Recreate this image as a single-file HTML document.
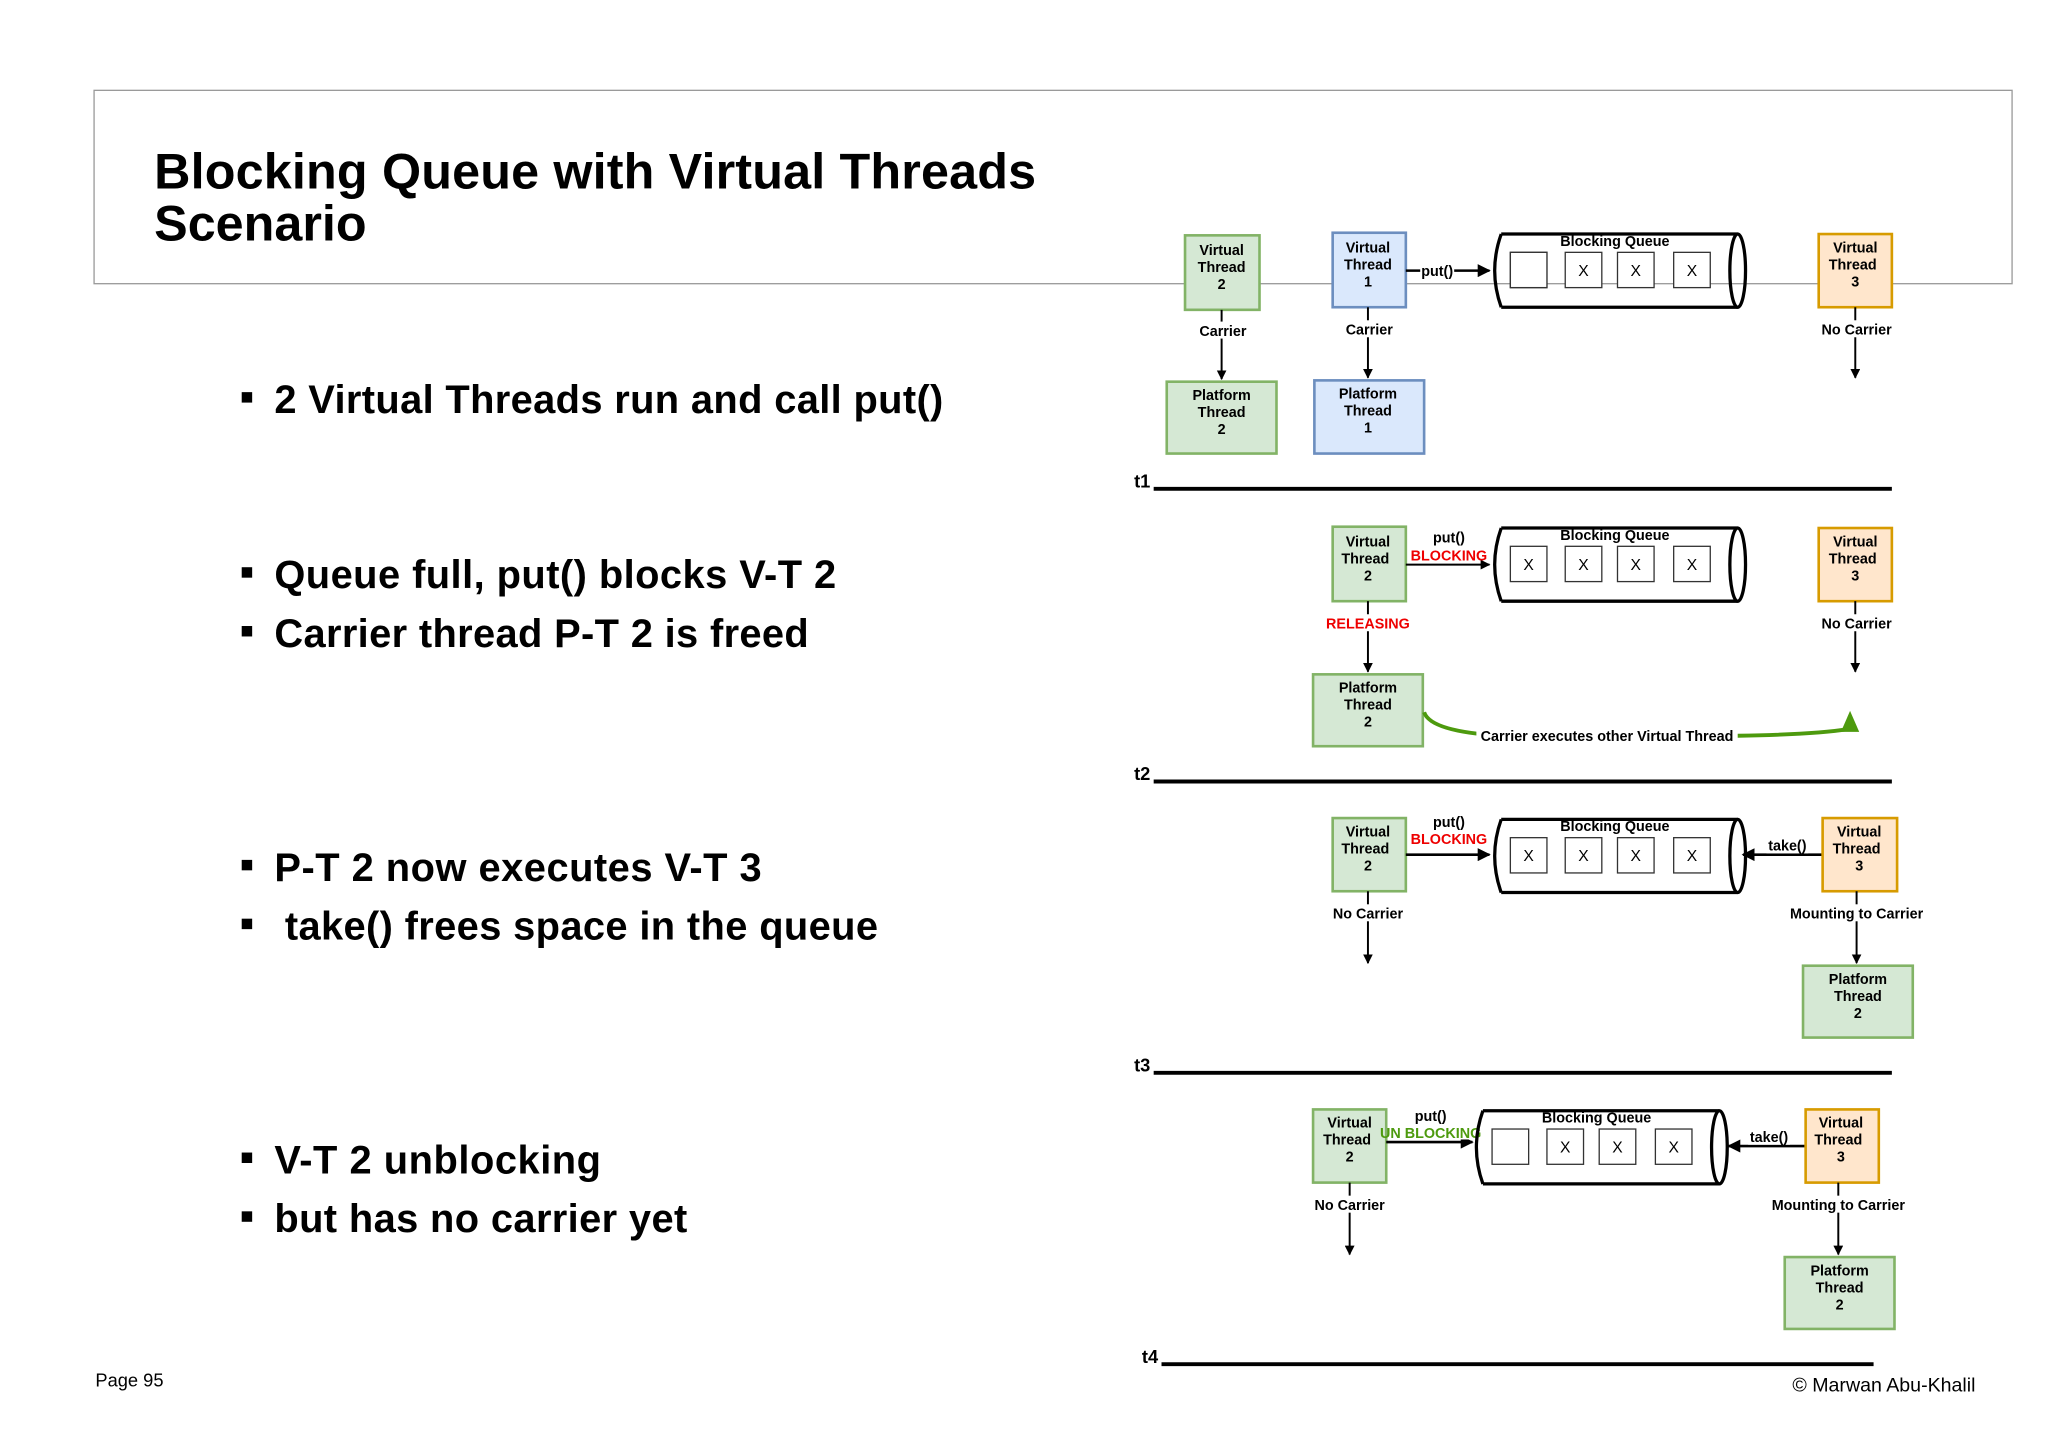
<!DOCTYPE html>
<html><head><meta charset="utf-8"><style>
html,body{margin:0;padding:0;background:#fff;width:2048px;height:1448px;overflow:hidden}
svg{display:block}
text{font-family:"Liberation Sans",sans-serif}
.b{font-weight:bold;font-size:11px;text-anchor:middle}
.l{font-weight:bold;font-size:11px;text-anchor:middle}
</style></head><body>
<svg width="2048" height="1448" viewBox="0 0 1567.5 1108" xmlns="http://www.w3.org/2000/svg">
<defs>
<marker id="ar" viewBox="0 0 10 10" refX="9" refY="5" markerWidth="5" markerHeight="5" orient="auto"><path d="M0,0 L10,5 L0,10 Z" fill="#000"/></marker>
<g id="q">
<path d="M6,0 L187,0 M6,56 L187,56" stroke="#000" stroke-width="2.5" fill="none"/>
<path d="M6,0 Q-4,28 6,56" stroke="#000" stroke-width="2.5" fill="none"/>
<ellipse cx="187" cy="28" rx="6" ry="28" fill="none" stroke="#000" stroke-width="2.5"/>
<text x="93" y="9" class="b">Blocking Queue</text>
</g>
<g id="cells">
<rect x="13" y="14" width="28" height="27" fill="#fff" stroke="#333"/>
<rect x="55" y="14" width="28" height="27" fill="#fff" stroke="#333"/>
<rect x="95" y="14" width="28" height="27" fill="#fff" stroke="#333"/>
<rect x="138" y="14" width="28" height="27" fill="#fff" stroke="#333"/>
<text x="69" y="32" font-size="12" text-anchor="middle">X</text>
<text x="109" y="32" font-size="12" text-anchor="middle">X</text>
<text x="152" y="32" font-size="12" text-anchor="middle">X</text>
</g>
</defs>

<rect x="72" y="69" width="1468" height="148" fill="none" stroke="#999" stroke-width="1"/>
<text x="118" y="144" font-size="38.5" font-weight="bold" textLength="675">Blocking Queue with Virtual Threads</text>
<text x="118" y="184" font-size="38.5" font-weight="bold">Scenario</text>

<g font-size="30.5" font-weight="bold">
<rect x="185" y="300" width="8" height="8"/><text x="210" y="316" textLength="512">2 Virtual Threads run and call put()</text>
<rect x="185" y="434" width="8" height="8"/><text x="210" y="450" textLength="430">Queue full, put() blocks V-T 2</text>
<rect x="185" y="479" width="8" height="8"/><text x="210" y="495" textLength="409">Carrier thread P-T 2 is freed</text>
<rect x="185" y="658" width="8" height="8"/><text x="210" y="674" textLength="373">P-T 2 now executes V-T 3</text>
<rect x="185" y="703" width="8" height="8"/><text x="218" y="719" textLength="454">take() frees space in the queue</text>
<rect x="185" y="882" width="8" height="8"/><text x="210" y="898" textLength="250">V-T 2 unblocking</text>
<rect x="185" y="927" width="8" height="8"/><text x="210" y="943" textLength="316">but has no carrier yet</text>
</g>
<text x="73" y="1061" font-size="14">Page 95</text>
<text x="1512" y="1065" font-size="15" text-anchor="end">© Marwan Abu-Khalil</text>

<!-- t1 -->
<rect x="907" y="180" width="57" height="57" fill="#d5e8d4" stroke="#82b366" stroke-width="2"/>
<text class="b" x="935" y="195">Virtual</text><text class="b" x="935" y="208">Thread</text><text class="b" x="935" y="221">2</text>
<line x1="935" y1="237" x2="935" y2="290" stroke="#000" stroke-width="1.5" marker-end="url(#ar)"/>
<rect x="915" y="246" width="42" height="13" fill="#fff"/><text class="l" x="936" y="257">Carrier</text>
<rect x="893" y="292" width="84" height="55" fill="#d5e8d4" stroke="#82b366" stroke-width="2"/>
<text class="b" x="935" y="306">Platform</text><text class="b" x="935" y="319">Thread</text><text class="b" x="935" y="332">2</text>

<rect x="1020" y="178" width="56" height="57" fill="#dae8fc" stroke="#6c8ebf" stroke-width="2"/>
<text class="b" x="1047" y="193">Virtual</text><text class="b" x="1047" y="206">Thread</text><text class="b" x="1047" y="219">1</text>
<line x1="1047" y1="235" x2="1047" y2="289" stroke="#000" stroke-width="1.5" marker-end="url(#ar)"/>
<rect x="1027" y="245" width="42" height="13" fill="#fff"/><text class="l" x="1048" y="256">Carrier</text>
<rect x="1006" y="291" width="84" height="56" fill="#dae8fc" stroke="#6c8ebf" stroke-width="2"/>
<text class="b" x="1047" y="305">Platform</text><text class="b" x="1047" y="318">Thread</text><text class="b" x="1047" y="331">1</text>
<line x1="1076" y1="207" x2="1140" y2="207" stroke="#000" stroke-width="2" marker-end="url(#ar)"/>
<rect x="1087" y="200" width="26" height="13" fill="#fff"/><text class="l" x="1100" y="211">put()</text>
<g transform="translate(1143,179)"><use href="#q"/><use href="#cells"/><rect x="13" y="14" width="28" height="27" fill="#fff" stroke="#333"/></g>
<rect x="1392" y="179" width="56" height="56" fill="#ffe6cc" stroke="#d79b00" stroke-width="2"/>
<text class="b" x="1420" y="193">Virtual</text><text class="b" x="1418" y="206">Thread</text><text class="b" x="1420" y="219">3</text>
<line x1="1420" y1="235" x2="1420" y2="289" stroke="#000" stroke-width="1.5" marker-end="url(#ar)"/>
<rect x="1393" y="245" width="56" height="13" fill="#fff"/><text class="l" x="1421" y="256">No Carrier</text>
<text x="868" y="373" font-size="14" font-weight="bold">t1</text>
<line x1="883" y1="374" x2="1448" y2="374" stroke="#000" stroke-width="3"/>

<!-- t2 -->
<rect x="1020" y="403" width="56" height="57" fill="#d5e8d4" stroke="#82b366" stroke-width="2"/>
<text class="b" x="1047" y="418">Virtual</text><text class="b" x="1045" y="431">Thread</text><text class="b" x="1047" y="444">2</text>
<line x1="1076" y1="432" x2="1140" y2="432" stroke="#000" stroke-width="1.5" marker-end="url(#ar)"/>
<text class="l" x="1109" y="415">put()</text><text class="l" x="1109" y="429" fill="#e00">BLOCKING</text>
<g transform="translate(1143,404)"><use href="#q"/><use href="#cells"/><text x="27" y="32" font-size="12" text-anchor="middle">X</text></g>
<line x1="1047" y1="460" x2="1047" y2="514" stroke="#000" stroke-width="1.5" marker-end="url(#ar)"/>
<rect x="1013" y="470" width="68" height="13" fill="#fff"/><text class="l" x="1047" y="481" fill="#e00">RELEASING</text>
<rect x="1005" y="516" width="84" height="55" fill="#d5e8d4" stroke="#82b366" stroke-width="2"/>
<text class="b" x="1047" y="530">Platform</text><text class="b" x="1047" y="543">Thread</text><text class="b" x="1047" y="556">2</text>
<path d="M1090,545 Q1095,560 1150,563 L1330,563 Q1390,562 1414,558" stroke="#4d9a0e" stroke-width="3" fill="none"/>
<path d="M1409,560 L1416,544 L1423,560 Z" fill="#4d9a0e"/>
<rect x="1130" y="556" width="200" height="13" fill="#fff"/><text class="l" x="1230" y="567">Carrier executes other Virtual Thread</text>
<rect x="1392" y="404" width="56" height="56" fill="#ffe6cc" stroke="#d79b00" stroke-width="2"/>
<text class="b" x="1420" y="418">Virtual</text><text class="b" x="1418" y="431">Thread</text><text class="b" x="1420" y="444">3</text>
<line x1="1420" y1="460" x2="1420" y2="514" stroke="#000" stroke-width="1.5" marker-end="url(#ar)"/>
<rect x="1393" y="470" width="56" height="13" fill="#fff"/><text class="l" x="1421" y="481">No Carrier</text>
<text x="868" y="597" font-size="14" font-weight="bold">t2</text>
<line x1="883" y1="598" x2="1448" y2="598" stroke="#000" stroke-width="3"/>

<!-- t3 -->
<rect x="1020" y="626" width="56" height="56" fill="#d5e8d4" stroke="#82b366" stroke-width="2"/>
<text class="b" x="1047" y="640">Virtual</text><text class="b" x="1045" y="653">Thread</text><text class="b" x="1047" y="666">2</text>
<line x1="1076" y1="654" x2="1140" y2="654" stroke="#000" stroke-width="2" marker-end="url(#ar)"/>
<text class="l" x="1109" y="633">put()</text><text class="l" x="1109" y="646" fill="#e00">BLOCKING</text>
<g transform="translate(1143,627)"><use href="#q"/><use href="#cells"/><text x="27" y="32" font-size="12" text-anchor="middle">X</text></g>
<line x1="1395" y1="654" x2="1334" y2="654" stroke="#000" stroke-width="2" marker-end="url(#ar)"/>
<rect x="1352" y="641" width="32" height="12" fill="#fff"/><text class="l" x="1368" y="651">take()</text>
<rect x="1395" y="626" width="57" height="56" fill="#ffe6cc" stroke="#d79b00" stroke-width="2"/>
<text class="b" x="1423" y="640">Virtual</text><text class="b" x="1421" y="653">Thread</text><text class="b" x="1423" y="666">3</text>
<line x1="1047" y1="682" x2="1047" y2="737" stroke="#000" stroke-width="1.5" marker-end="url(#ar)"/>
<rect x="1019" y="692" width="56" height="13" fill="#fff"/><text class="l" x="1047" y="703">No Carrier</text>
<line x1="1421" y1="682" x2="1421" y2="737" stroke="#000" stroke-width="1.5" marker-end="url(#ar)"/>
<rect x="1368" y="692" width="106" height="13" fill="#fff"/><text class="l" x="1421" y="703">Mounting to Carrier</text>
<rect x="1380" y="739" width="84" height="55" fill="#d5e8d4" stroke="#82b366" stroke-width="2"/>
<text class="b" x="1422" y="753">Platform</text><text class="b" x="1422" y="766">Thread</text><text class="b" x="1422" y="779">2</text>
<text x="868" y="820" font-size="14" font-weight="bold">t3</text>
<line x1="883" y1="821" x2="1448" y2="821" stroke="#000" stroke-width="3"/>

<!-- t4 -->
<rect x="1005" y="849" width="56" height="56" fill="#d5e8d4" stroke="#82b366" stroke-width="2"/>
<text class="b" x="1033" y="863">Virtual</text><text class="b" x="1031" y="876">Thread</text><text class="b" x="1033" y="889">2</text>
<line x1="1061" y1="874" x2="1127" y2="874" stroke="#000" stroke-width="2" marker-end="url(#ar)"/>
<rect x="1062" y="846" width="67" height="26" fill="#fff"/>
<text class="l" x="1095" y="858">put()</text><text class="l" x="1095" y="871" fill="#4d9a0e">UN BLOCKING</text>
<g transform="translate(1129,850)"><use href="#q"/><use href="#cells"/></g>
<line x1="1382" y1="877" x2="1323" y2="877" stroke="#000" stroke-width="2" marker-end="url(#ar)"/>
<rect x="1338" y="864" width="32" height="12" fill="#fff"/><text class="l" x="1354" y="874">take()</text>
<rect x="1382" y="849" width="56" height="56" fill="#ffe6cc" stroke="#d79b00" stroke-width="2"/>
<text class="b" x="1409" y="863">Virtual</text><text class="b" x="1407" y="876">Thread</text><text class="b" x="1409" y="889">3</text>
<line x1="1033" y1="905" x2="1033" y2="960" stroke="#000" stroke-width="1.5" marker-end="url(#ar)"/>
<rect x="1005" y="915" width="56" height="13" fill="#fff"/><text class="l" x="1033" y="926">No Carrier</text>
<line x1="1407" y1="905" x2="1407" y2="960" stroke="#000" stroke-width="1.5" marker-end="url(#ar)"/>
<rect x="1354" y="915" width="106" height="13" fill="#fff"/><text class="l" x="1407" y="926">Mounting to Carrier</text>
<rect x="1366" y="962" width="84" height="55" fill="#d5e8d4" stroke="#82b366" stroke-width="2"/>
<text class="b" x="1408" y="976">Platform</text><text class="b" x="1408" y="989">Thread</text><text class="b" x="1408" y="1002">2</text>
<text x="874" y="1043" font-size="14" font-weight="bold">t4</text>
<line x1="889" y1="1044" x2="1434" y2="1044" stroke="#000" stroke-width="3"/>
</svg>
</body></html>
